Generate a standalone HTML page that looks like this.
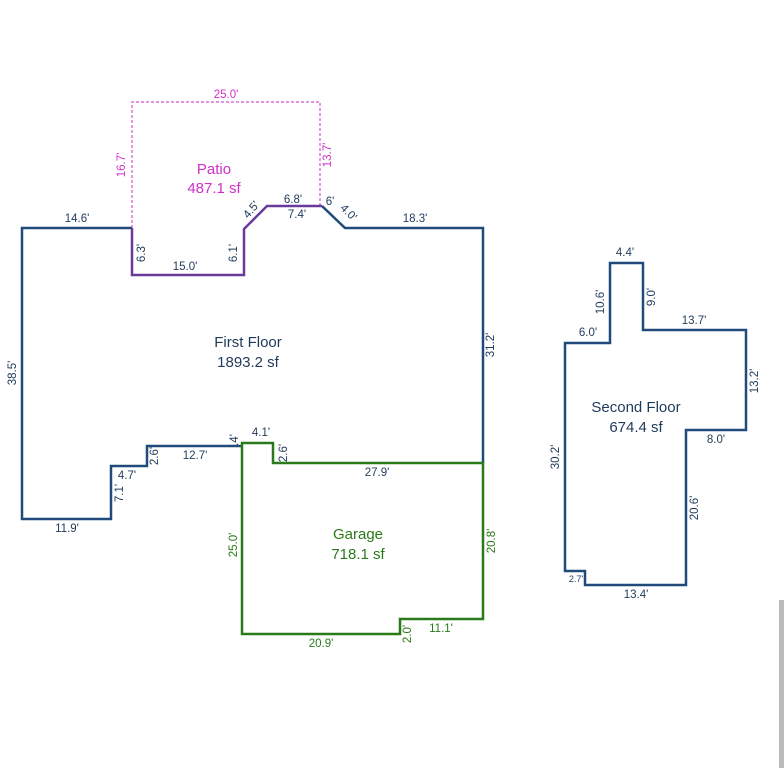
<!DOCTYPE html>
<html><head><style>
body{margin:0;background:#fff;width:784px;height:768px;overflow:hidden;}
text{font-family:"Liberation Sans",sans-serif;font-size:11.5px;}
</style></head><body>
<svg width="784" height="768" viewBox="0 0 784 768" xmlns="http://www.w3.org/2000/svg">
<rect x="779" y="600" width="5" height="168" fill="#bbb"/>
<polyline points="132,228 132,102 320,102 320,206" fill="none" stroke="#d555d5" stroke-width="1.2" stroke-dasharray="3,2"/>
<polyline points="132,228 22,228 22,519 111,519 111,466 147,466 147,446 242,446" fill="none" stroke="#1f4a7a" stroke-width="2.5"/>
<polyline points="322,206 345,228 483,228 483,463" fill="none" stroke="#1f4a7a" stroke-width="2.5"/>
<polyline points="132,228 132,275 244,275 244,229 267,206 322,206" fill="none" stroke="#6a3a9a" stroke-width="2.5"/>
<polygon points="242,443 273,443 273,463 483,463 483,619 400,619 400,634 242,634" fill="none" stroke="#2a7a1a" stroke-width="2.5"/>
<polygon points="565,343 610,343 610,263 643,263 643,330 746,330 746,430 686,430 686,585 585,585 585,571 565,571" fill="none" stroke="#1f4a7a" stroke-width="2.5"/>

<g fill="#d030c8" text-anchor="middle">
<text x="226" y="98">25.0'</text>
<text x="0" y="0" transform="translate(125,165) rotate(-90)">16.7'</text>
<text x="0" y="0" transform="translate(331,155) rotate(-90)">13.7'</text>
<text x="214" y="174" style="font-size:15px">Patio</text>
<text x="214" y="193" style="font-size:15px">487.1 sf</text>
</g>
<g fill="#1f3a5a" text-anchor="middle">
<text x="77" y="222">14.6'</text>
<text x="415" y="222">18.3'</text>
<text x="293" y="203">6.8'</text>
<text x="297" y="218">7.4'</text>
<text x="0" y="0" transform="translate(254,212) rotate(-50)">4.5'</text>
<text x="330" y="205">6'</text>
<text x="0" y="0" transform="translate(346,215) rotate(45)">4.0'</text>
<text x="0" y="0" transform="translate(145,253) rotate(-90)">6.3'</text>
<text x="185" y="270">15.0'</text>
<text x="0" y="0" transform="translate(237,253) rotate(-90)">6.1'</text>
<text x="248" y="347" style="font-size:15px">First Floor</text>
<text x="248" y="367" style="font-size:15px">1893.2 sf</text>
<text x="0" y="0" transform="translate(494,345) rotate(-90)">31.2'</text>
<text x="0" y="0" transform="translate(16,373) rotate(-90)">38.5'</text>
<text x="0" y="0" transform="translate(158,456) rotate(-90)">2.6'</text>
<text x="195" y="459">12.7'</text>
<text x="127" y="479">4.7'</text>
<text x="0" y="0" transform="translate(123,493) rotate(-90)">7.1'</text>
<text x="67" y="532">11.9'</text>
<text x="0" y="0" transform="translate(238,440) rotate(-90)">.4'</text>
<text x="261" y="436">4.1'</text>
<text x="0" y="0" transform="translate(287,453) rotate(-90)">2.6'</text>
<text x="377" y="476">27.9'</text>
<text x="625" y="256">4.4'</text>
<text x="0" y="0" transform="translate(604,302) rotate(-90)">10.6'</text>
<text x="0" y="0" transform="translate(655,297) rotate(-90)">9.0'</text>
<text x="588" y="336">6.0'</text>
<text x="694" y="324">13.7'</text>
<text x="0" y="0" transform="translate(758,381) rotate(-90)">13.2'</text>
<text x="636" y="412" style="font-size:15px">Second Floor</text>
<text x="636" y="432" style="font-size:15px">674.4 sf</text>
<text x="716" y="443">8.0'</text>
<text x="0" y="0" transform="translate(559,457) rotate(-90)">30.2'</text>
<text x="0" y="0" transform="translate(698,508) rotate(-90)">20.6'</text>
<text x="576" y="582" style="font-size:9px">2.7'</text>
<text x="636" y="598">13.4'</text>
</g>
<g fill="#2a7a1a" text-anchor="middle">
<text x="0" y="0" transform="translate(237,545) rotate(-90)">25.0'</text>
<text x="0" y="0" transform="translate(495,541) rotate(-90)">20.8'</text>
<text x="358" y="539" style="font-size:15px">Garage</text>
<text x="358" y="559" style="font-size:15px">718.1 sf</text>
<text x="321" y="647">20.9'</text>
<text x="0" y="0" transform="translate(411,634) rotate(-90)">2.0'</text>
<text x="441" y="632">11.1'</text>
</g>
</svg>
</body></html>
